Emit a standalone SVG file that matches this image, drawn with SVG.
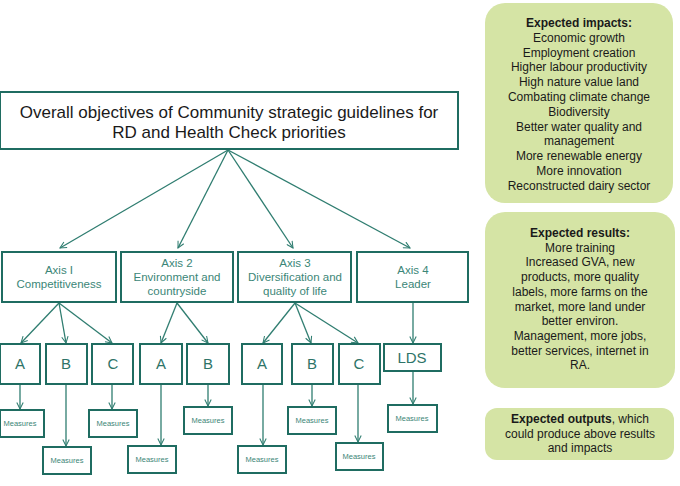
<svg xmlns="http://www.w3.org/2000/svg" width="680" height="486" viewBox="0 0 680 486">
<style>
.box{fill:#fff;stroke:#1f6c61;stroke-width:2}
.gbox{fill:#d5e4a5;stroke:none}
.t{font-family:"Liberation Sans",Arial,sans-serif;text-anchor:middle}
.main{font-size:17px;fill:#1a1a1a}
.ax{font-size:11.5px;fill:#3b8677}
.let{font-size:15px;fill:#2e7468}
.ms{font-size:7.5px;fill:#3b8677}
.g{font-size:12px;fill:#1a1a1a}
.b{font-weight:bold}
.c{fill:none;stroke:#2f7d70;stroke-width:1.3}
</style>
<defs>
<marker id="ah" viewBox="0 0 10 10" refX="9" refY="5" markerWidth="8" markerHeight="8" markerUnits="userSpaceOnUse" orient="auto">
<path d="M1,1 L9,5 L1,9" fill="none" stroke="#2f7d70" stroke-width="1.3"/>
</marker>
</defs>
<g id="connectors">
<path class="c" marker-end="url(#ah)" d="M228,150 L60,248"/>
<path class="c" marker-end="url(#ah)" d="M228,150 L178,248"/>
<path class="c" marker-end="url(#ah)" d="M228,150 L293,248"/>
<path class="c" marker-end="url(#ah)" d="M228,150 L410,248"/>
<path class="c" marker-end="url(#ah)" d="M59,303 L21,343"/>
<path class="c" marker-end="url(#ah)" d="M59,303 L66,343"/>
<path class="c" marker-end="url(#ah)" d="M59,303 L112,343"/>
<path class="c" marker-end="url(#ah)" d="M177,303 L161,343"/>
<path class="c" marker-end="url(#ah)" d="M177,303 L208,343"/>
<path class="c" marker-end="url(#ah)" d="M295,303 L263,343"/>
<path class="c" marker-end="url(#ah)" d="M295,303 L311,343"/>
<path class="c" marker-end="url(#ah)" d="M295,303 L358,343"/>
<path class="c" marker-end="url(#ah)" d="M413,303 L413,343"/>
<path class="c" marker-end="url(#ah)" d="M20,385 L20,409"/>
<path class="c" marker-end="url(#ah)" d="M66,385 L66,446"/>
<path class="c" marker-end="url(#ah)" d="M112,385 L112,409"/>
<path class="c" marker-end="url(#ah)" d="M161,385 L161,445"/>
<path class="c" marker-end="url(#ah)" d="M208,385 L208,406"/>
<path class="c" marker-end="url(#ah)" d="M263,385 L263,445"/>
<path class="c" marker-end="url(#ah)" d="M312,385 L312,406"/>
<path class="c" marker-end="url(#ah)" d="M358,385 L358,442"/>
<path class="c" marker-end="url(#ah)" d="M413,372 L413,404"/>
</g>
<g id="main">
<rect class="box" x="0" y="92" width="458" height="57"/>
<text class="t main" x="229" y="118">Overall objectives of Community strategic guidelines for</text>
<text class="t main" x="229" y="138">RD and Health Check priorities</text>
</g>
<g id="axis1">
<rect class="box" x="2" y="252" width="114" height="50"/>
<text class="t ax" x="59" y="274">Axis I</text>
<text class="t ax" x="59" y="288">Competitiveness</text>
</g>
<g id="axis2">
<rect class="box" x="121" y="252" width="112" height="50"/>
<text class="t ax" x="177" y="267">Axis 2</text>
<text class="t ax" x="177" y="281">Environment and</text>
<text class="t ax" x="177" y="295">countryside</text>
</g>
<g id="axis3">
<rect class="box" x="238" y="252" width="113" height="50"/>
<text class="t ax" x="295" y="267">Axis 3</text>
<text class="t ax" x="295" y="281">Diversification and</text>
<text class="t ax" x="295" y="295">quality of life</text>
</g>
<g id="axis4">
<rect class="box" x="357" y="252" width="111" height="50"/>
<text class="t ax" x="413" y="274">Axis 4</text>
<text class="t ax" x="413" y="288">Leader</text>
</g>
<g id="a1A"><rect class="box" x="0" y="344" width="40" height="40"/><text class="t let" x="20" y="369">A</text></g>
<g id="a1B"><rect class="box" x="46" y="344" width="41" height="40"/><text class="t let" x="66" y="369">B</text></g>
<g id="a1C"><rect class="box" x="92" y="344" width="41" height="40"/><text class="t let" x="113" y="369">C</text></g>
<g id="a2A"><rect class="box" x="140" y="344" width="42" height="40"/><text class="t let" x="161" y="369">A</text></g>
<g id="a2B"><rect class="box" x="187" y="344" width="42" height="40"/><text class="t let" x="208" y="369">B</text></g>
<g id="a3A"><rect class="box" x="242" y="344" width="40" height="40"/><text class="t let" x="262" y="369">A</text></g>
<g id="a3B"><rect class="box" x="292" y="344" width="41" height="40"/><text class="t let" x="312" y="369">B</text></g>
<g id="a3C"><rect class="box" x="339" y="344" width="41" height="40"/><text class="t let" x="359" y="369">C</text></g>
<g id="lds"><rect class="box" x="384" y="344" width="57" height="27"/><text class="t let" x="412" y="363">LDS</text></g>
<g id="m1A"><rect class="box" x="0" y="410" width="44" height="27"/><text class="t ms" x="20" y="426">Measures</text></g>
<g id="m1B"><rect class="box" x="43" y="447" width="48" height="27"/><text class="t ms" x="67" y="463">Measures</text></g>
<g id="m1C"><rect class="box" x="89" y="410" width="48" height="27"/><text class="t ms" x="113" y="426">Measures</text></g>
<g id="m2A"><rect class="box" x="128" y="446" width="48" height="27"/><text class="t ms" x="152" y="462">Measures</text></g>
<g id="m2B"><rect class="box" x="184" y="407" width="48" height="27"/><text class="t ms" x="208" y="423">Measures</text></g>
<g id="m3A"><rect class="box" x="238" y="446" width="48" height="27"/><text class="t ms" x="262" y="462">Measures</text></g>
<g id="m3B"><rect class="box" x="288" y="407" width="48" height="27"/><text class="t ms" x="312" y="423">Measures</text></g>
<g id="m3C"><rect class="box" x="336" y="443" width="47" height="27"/><text class="t ms" x="359" y="459">Measures</text></g>
<g id="m4"><rect class="box" x="388" y="405" width="49" height="27"/><text class="t ms" x="412" y="421">Measures</text></g>
<g id="impacts">
<rect class="gbox" x="485" y="3" width="188" height="200" rx="20"/>
<text class="t g" x="579" y="27"><tspan class="b">Expected impacts:</tspan><tspan x="579" dy="14.8">Economic growth</tspan><tspan x="579" dy="14.8">Employment creation</tspan><tspan x="579" dy="14.8">Higher labour productivity</tspan><tspan x="579" dy="14.8">High nature value land</tspan><tspan x="579" dy="14.8">Combating climate change</tspan><tspan x="579" dy="14.8">Biodiversity</tspan><tspan x="579" dy="14.8">Better water quality and</tspan><tspan x="579" dy="14.8">management</tspan><tspan x="579" dy="14.8">More renewable energy</tspan><tspan x="579" dy="14.8">More innovation</tspan><tspan x="579" dy="14.8">Reconstructed dairy sector</tspan></text>
</g>
<g id="results">
<rect class="gbox" x="485" y="212" width="190" height="176" rx="20"/>
<text class="t g" x="580" y="237"><tspan class="b">Expected results:</tspan><tspan x="580" dy="14.7">More training</tspan><tspan x="580" dy="14.7">Increased GVA, new</tspan><tspan x="580" dy="14.7">products, more quality</tspan><tspan x="580" dy="14.7">labels, more farms on the</tspan><tspan x="580" dy="14.7">market, more land under</tspan><tspan x="580" dy="14.7">better environ.</tspan><tspan x="580" dy="14.7">Management, more jobs,</tspan><tspan x="580" dy="14.7">better services, internet in</tspan><tspan x="580" dy="14.7">RA.</tspan></text>
</g>
<g id="outputs">
<rect class="gbox" x="485" y="408" width="189" height="52" rx="12"/>
<text class="t g" x="580" y="423"><tspan class="b">Expected outputs</tspan>, which<tspan x="580" dy="14.7">could produce above results</tspan><tspan x="580" dy="14.7">and impacts</tspan></text>
</g>
</svg>
